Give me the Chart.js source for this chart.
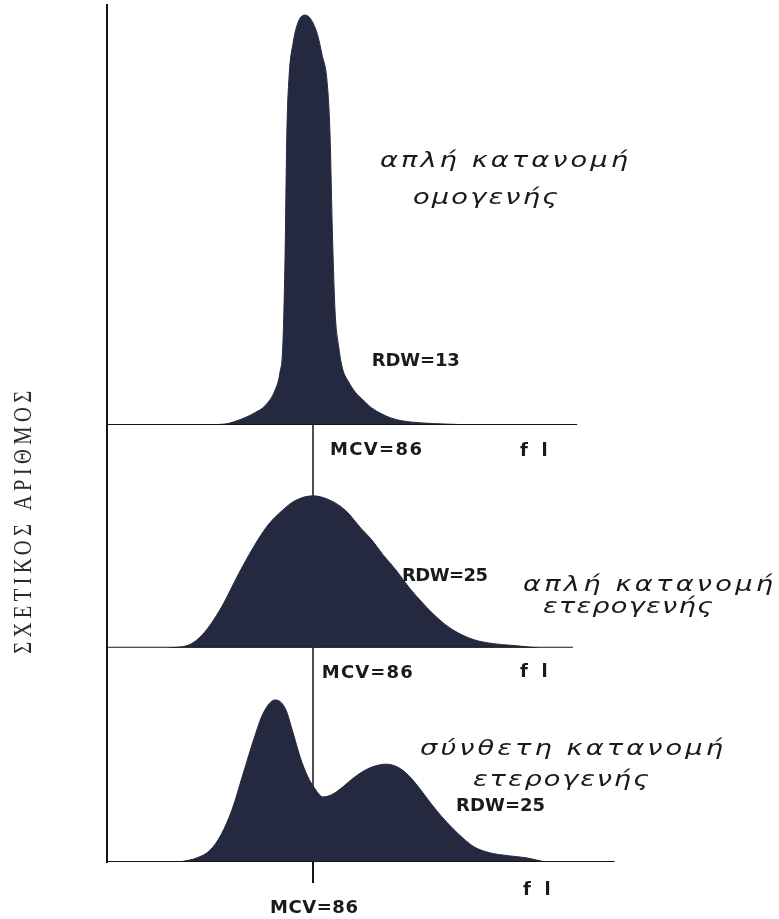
<!DOCTYPE html>
<html>
<head>
<meta charset="utf-8">
<script src="https://cdn.jsdelivr.net/npm/chart.js@4.4.0/dist/chart.umd.min.js"></script>
<style>
  html, body { margin: 0; padding: 0; background: #fff; }
  #wrap { width: 779px; height: 919px; }
</style>
</head>
<body>
<div id="wrap"><canvas id="rdwChart"></canvas></div>
<script>
// red cell volume (fL) and relative count
var flHomo = [55, 62, 66, 70, 73, 75.7, 77, 77.8, 78.4, 78.9, 79.5, 80.6, 82, 83.8, 85.5, 87.2, 88.5, 89.8, 90.6, 91.3, 92, 93, 94, 95.5, 97.5, 100, 102, 104.5, 107, 110, 115, 122, 129];
var cntHomo = [0, 0.2, 1.2, 2.8, 4.6, 8.3, 12.4, 19, 40, 70, 83, 91, 96, 97.6, 96.5, 93, 88, 82, 70, 45, 27, 18.5, 13.5, 10.5, 7.8, 5.6, 4.0, 2.7, 1.7, 1.0, 0.5, 0.2, 0];

var flHetero = [47, 52, 56, 61, 66, 71, 74, 77.5, 81, 86, 91, 95, 99, 102, 105, 108.5, 112, 116, 120, 124, 129.5, 135, 140, 147];
var cntHetero = [0, 0.6, 3.2, 9.5, 18.0, 25.7, 29.5, 32.6, 35.0, 36.2, 35.0, 32.6, 28.5, 25.7, 22.2, 18.6, 14.5, 10.5, 7.0, 4.3, 2.0, 1.0, 0.6, 0];

var flBimodal = [49.8, 54.5, 58, 61, 64, 67, 70, 72.5, 75.7, 78.5, 80.5, 82.5, 84.5, 86.5, 88.7, 91, 94, 97, 100, 103, 106, 109, 112, 115, 118, 121, 124, 127, 130, 134, 139, 144, 149];
var cntBimodal = [0, 1.0, 2.8, 6.5, 12.5, 21, 29.5, 35.5, 38.6, 36.5, 31, 25, 20.5, 17.5, 15.5, 16.0, 17.8, 20.0, 21.8, 22.9, 23.3, 22.6, 20.6, 17.5, 14.0, 10.8, 8.0, 5.5, 3.5, 2.2, 1.5, 1.0, 0];

var mcv = 86;
var rdw = [13, 25, 25];
var axisEnd = [157.8, 156.7, 168];   // where each drawn fL axis stops
var panelMax = [100, 53.1, 51];      // relative count shown in each panel
var flMin = 30, flMax = 170;

var yTitle = "ΣΧΕΤΙΚΟΣ ΑΡΙΘΜΟΣ";
var unitText = "fl";
var panelText = [
  ["απλή κατανομή", "ομογενής"],
  ["απλή κατανομή", "ετερογενής"],
  ["σύνθετη κατανομή", "ετερογενής"]
];

var ink = "#252940";
var lineCol = "#141414";

function toPoints(xs, ys) {
  var out = [];
  for (var i = 0; i < xs.length; i++) out.push({ x: xs[i], y: ys[i] });
  return out;
}

function histSet(xs, ys, axis) {
  return {
    data: toPoints(xs, ys), yAxisID: axis, order: 1,
    borderColor: ink, borderWidth: 1, backgroundColor: ink,
    fill: "origin", pointRadius: 0, cubicInterpolationMode: "monotone"
  };
}

function ruleSet(pts, axis, w) {
  return {
    data: pts, yAxisID: axis, order: 0,
    borderColor: lineCol, borderWidth: w, fill: false, pointRadius: 0
  };
}

function yScale(i, weight) {
  return {
    type: "linear", position: "left", stack: "panels",
    stackWeight: panelMax[i], weight: weight,
    min: 0, max: panelMax[i],
    ticks: { display: false },
    grid: { display: false, drawTicks: false },
    border: { display: true, color: lineCol, width: 2 }
  };
}

// letter-spaced text stretched to the width it has in the scan
function fitText(ctx, text, x, y, w, font, sx) {
  sx = sx || 1;
  ctx.save();
  ctx.font = font;
  ctx.translate(x, y);
  ctx.scale(sx, 1);
  if ("letterSpacing" in ctx) ctx.letterSpacing = "0px";
  var nat = ctx.measureText(text).width;
  var n = Array.from(text).length;
  if ("letterSpacing" in ctx && n > 1) {
    ctx.letterSpacing = ((w / sx - nat) / (n - 1)) + "px";
  }
  ctx.fillText(text, 0, 0);
  ctx.restore();
}

var greekFont = 'italic 21px "DejaVu Sans"';
var boldFont = 'bold 18px "DejaVu Sans"';

var notesPlugin = {
  id: "notes",
  afterDraw: function (chart) {
    var ctx = chart.ctx;
    var sx = chart.scales.x;
    var ys = [chart.scales.yA, chart.scales.yB, chart.scales.yC];
    function px(v) { return sx.getPixelForValue(v); }

    ctx.save();
    ctx.fillStyle = "#1a1a1a";
    ctx.textBaseline = "middle";
    ctx.textAlign = "left";

    // panel 1
    fitText(ctx, panelText[0][0], px(104.2), ys[0].getPixelForValue(62.6), 248, greekFont, 1.3);
    fitText(ctx, panelText[0][1], px(113.2), ys[0].getPixelForValue(54.0), 145, greekFont, 1.3);
    fitText(ctx, "RDW=" + rdw[0], px(102.0), ys[0].getPixelForValue(15.2), 88, boldFont);
    fitText(ctx, "MCV=" + mcv, px(90.6), ys[1].getPixelForValue(47.1), 92, boldFont);
    fitText(ctx, unitText, px(142.3), ys[1].getPixelForValue(46.7), 27, boldFont);

    // panel 2
    fitText(ctx, "RDW=" + rdw[1], px(110.2), ys[1].getPixelForValue(17.1), 86, boldFont);
    fitText(ctx, panelText[1][0], px(143.1), ys[1].getPixelForValue(14.8), 250, greekFont, 1.3);
    fitText(ctx, panelText[1][1], px(148.5), ys[1].getPixelForValue(9.5), 170, greekFont, 1.3);
    fitText(ctx, "MCV=" + mcv, px(88.4), ys[2].getPixelForValue(45.0), 91, boldFont);
    fitText(ctx, unitText, px(142.3), ys[2].getPixelForValue(45.2), 27, boldFont);

    // panel 3
    fitText(ctx, panelText[2][0], px(115.1), ys[2].getPixelForValue(26.7), 303, greekFont, 1.3);
    fitText(ctx, panelText[2][1], px(129.5), ys[2].getPixelForValue(19.5), 176, greekFont, 1.3);
    fitText(ctx, "RDW=" + rdw[2], px(124.9), ys[2].getPixelForValue(13.3), 89, boldFont);
    fitText(ctx, unitText, px(143.1), ys[2].getPixelForValue(-6.7), 27, boldFont);
    fitText(ctx, "MCV=" + mcv, px(74.3), ys[2].getPixelForValue(-11.0), 88, boldFont);

    // MCV tick under the last axis
    ctx.strokeStyle = lineCol;
    ctx.lineWidth = 2;
    ctx.beginPath();
    ctx.moveTo(px(mcv), ys[2].getPixelForValue(0));
    ctx.lineTo(px(mcv), ys[2].getPixelForValue(-5));
    ctx.stroke();

    // rotated axis title, reading bottom to top
    ctx.fillStyle = "#2b2b2b";
    ctx.translate(24, ys[1].getPixelForValue(0) + 6);
    ctx.rotate(-Math.PI / 2);
    fitText(ctx, yTitle, 0, 0, 263, '25px "Liberation Serif"', 0.82);
    ctx.restore();
  }
};

new Chart(document.getElementById("rdwChart"), {
  type: "line",
  data: {
    datasets: [
      histSet(flHomo, cntHomo, "yA"),
      histSet(flHetero, cntHetero, "yB"),
      histSet(flBimodal, cntBimodal, "yC"),
      ruleSet([{ x: flMin, y: 0 }, { x: axisEnd[0], y: 0 }], "yA", 2),
      ruleSet([{ x: flMin, y: 0 }, { x: axisEnd[1], y: 0 }], "yB", 2),
      ruleSet([{ x: flMin, y: 0 }, { x: axisEnd[2], y: 0 }], "yC", 2),
      Object.assign(ruleSet([{ x: mcv, y: panelMax[1] }, { x: mcv, y: 0 }], "yB", 1.5), { order: 3 }),
      Object.assign(ruleSet([{ x: mcv, y: panelMax[2] }, { x: mcv, y: 0 }], "yC", 1.5), { order: 3 })
    ]
  },
  options: {
    responsive: true,
    maintainAspectRatio: false,
    animation: false,
    layout: { padding: { left: 107, top: 5, right: 157, bottom: 57 } },
    plugins: { legend: { display: false }, tooltip: { enabled: false }, title: { display: false } },
    scales: {
      x: { type: "linear", min: flMin, max: flMax, display: false },
      yA: yScale(0, 3),
      yB: yScale(1, 2),
      yC: yScale(2, 1)
    }
  },
  plugins: [notesPlugin]
});
</script>
</body>
</html>
